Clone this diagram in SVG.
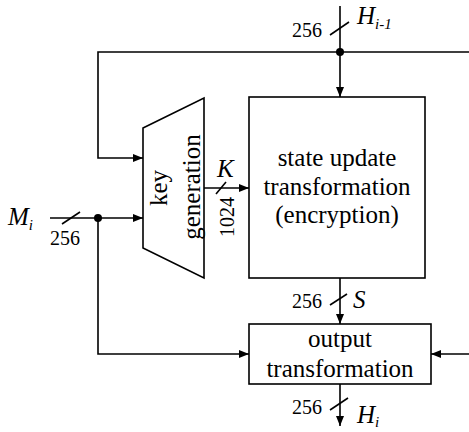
<svg xmlns="http://www.w3.org/2000/svg" width="469" height="432" viewBox="0 0 469 432">
<defs>
<marker id="arr" viewBox="0 0 10 10" refX="10" refY="5" markerWidth="10" markerHeight="10" markerUnits="userSpaceOnUse" orient="auto">
<path d="M0,1 L10,5 L0,9 Z" fill="#000"/>
</marker>
</defs>
<style>
.ln{fill:none;stroke:#000;stroke-width:1.6}
.bx{fill:#fff;stroke:#000;stroke-width:1.6}
text{font-family:'Liberation Serif','Times New Roman',serif;fill:#000}
.t{font-size:25px;text-anchor:middle}
.n{font-size:20px}
.v{font-size:25px;font-style:italic}
.s{font-size:15px}
</style>
<g id="connectors">
<path class="ln" d="M340,6 V97" marker-end="url(#arr)"/>
<path class="ln" d="M469,52 H98 V158 H143" marker-end="url(#arr)"/>
<path class="ln" d="M50,218 H143" marker-end="url(#arr)"/>
<path class="ln" d="M98,218 V354 H249" marker-end="url(#arr)"/>
<path class="ln" d="M204,188 H249" marker-end="url(#arr)"/>
<path class="ln" d="M340,278 V324" marker-end="url(#arr)"/>
<path class="ln" d="M469,354 H431" marker-end="url(#arr)"/>
<path class="ln" d="M340,384 V426" marker-end="url(#arr)"/>
<circle cx="340" cy="52" r="4" fill="#000"/>
<circle cx="98" cy="218" r="4" fill="#000"/>
<path class="ln" d="M330,35 L349,22"/>
<path class="ln" d="M62,224 L80,212"/>
<path class="ln" d="M216,194 L226,182"/>
<path class="ln" d="M330,305 L347,294"/>
<path class="ln" d="M330,410 L348,398"/>
<text class="n" x="292" y="37">256</text>
<text class="v" x="357" y="24">H<tspan class="s" dy="5">i-1</tspan></text>
<text class="v" x="8" y="225">M<tspan class="s" dy="5">i</tspan></text>
<text class="n" x="50" y="245">256</text>
<text class="v" x="217" y="177">K</text>
<text class="n" transform="translate(234,217) rotate(-90)" text-anchor="middle">1024</text>
<text class="n" x="292" y="308">256</text>
<text class="v" x="353" y="308">S</text>
<text class="n" x="292" y="414">256</text>
<text class="v" x="357" y="423">H<tspan class="s" dy="4">i</tspan></text>
</g>
<g id="keygen">
<path class="bx" d="M143,128 L204,98 V278 L143,248 Z"/>
<text class="t" transform="translate(167,188) rotate(-90)">key</text>
<text class="t" transform="translate(200,187) rotate(-90)">generation</text>
</g>
<g id="state">
<rect class="bx" x="249" y="97" width="176" height="181"/>
<text class="t" x="337" y="166">state update</text>
<text class="t" x="337" y="195">transformation</text>
<text class="t" x="337" y="223">(encryption)</text>
</g>
<g id="output">
<rect class="bx" x="249" y="324" width="182" height="60"/>
<text class="t" x="340" y="347">output</text>
<text class="t" x="340" y="377">transformation</text>
</g>
</svg>
